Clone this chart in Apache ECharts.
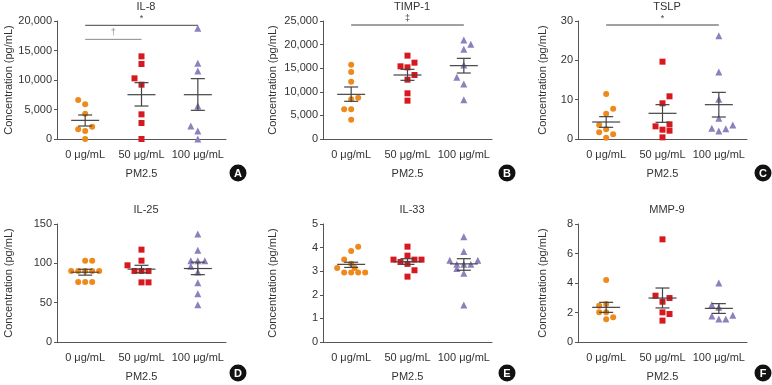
<!DOCTYPE html>
<html>
<head>
<meta charset="utf-8">
<style>
    html,body { margin:0; padding:0; background:#fff; }
    #main { width:772px; height:385px; }
</style>
<script src="https://cdn.jsdelivr.net/npm/echarts@6/dist/echarts.min.js"></script>
</head>
<body>
<div id="main"></div>
<script>
// groups on the x axis
var groups = ['0 μg/mL', '50 μg/mL', '100 μg/mL'];

// IL-8
var il8Vals  = [[6610, 5880, 4290, 2090, 1640, 1360, 0],
                [14010, 12710, 10280, 9210, 4180, 2710, 0],
                [18760, 12820, 11530, 5590, 2200, 1360, 0]];
var il8Slots = [[-1, 0, 0, 1, -1, 0, 0], [0, 0, -1, 0, 0, 0, 0], [0, 0, 0, 0, -1, 0, 0]];
var il8Mean = [3160, 7510, 7510];
var il8Lo   = [2200, 5590, 4860];
var il8Hi   = [4070, 9550, 10230];
var il8Sig  = [[0, 2, 19270, '*', 0], [0, 1, 16890, '†', 1]];

// TIMP-1
var timpVals  = [[15750, 14190, 12150, 8760, 8400, 6290, 6290, 4100],
                 [17660, 16170, 15400, 15180, 13560, 12570, 9680, 8120],
                 [20970, 20060, 19000, 15680, 13070, 11650, 8330]];
var timpSlots = [[0, 0, 0, 1, 0, -1, 0, 0], [0, 1, -1, 0, 1, 0, 0, 0], [0, 1, 0, 0, -1, 0, 0]];
var timpMean = [9460, 13560, 15540];
var timpLo   = [7980, 12430, 13980];
var timpHi   = [11020, 14760, 17090];
var timpSig  = [[0, 2, 24150, '‡', 0]];

// TSLP
var tslpVals  = [[11.44, 7.71, 6.44, 3.56, 2.46, 1.69, 1.19, 0.34],
                 [19.66, 10.85, 9.07, 3.22, 3.73, 2.37, 2.12, 0.42],
                 [26.27, 17.03, 10.08, 5.25, 2.71, 2.03, 2.63, 3.56]];
var tslpSlots = [[0, 1, 0, -1, 0, -1, 1, 0], [0, 1, 0, -1, 1, 0, 1, 0], [0, 0, 0, 0, -1, 0, 1, 2]];
var tslpMean = [4.32, 6.53, 8.73];
var tslpLo   = [2.97, 4.24, 5.59];
var tslpHi   = [5.68, 8.73, 11.86];
var tslpSig  = [[0, 2, 28.98, '*', 0]];

// IL-25
var il25Vals  = [[103.4, 103.4, 90.3, 90.3, 90.3, 90.3, 90.3, 76.3, 76.3, 76.3],
                 [117.4, 103.4, 97.5, 90.3, 90.3, 90.3, 75.8, 75.8],
                 [137.3, 116.5, 103.4, 103.4, 103.4, 96.2, 89, 75.4, 61.4, 47.5]];
var il25Slots = [[0, 1, -2, -1, 0, 1, 2, -1, 0, 1], [0, 0, -2, -1, 0, 1, 0, 1], [0, 0, -1, 0, 1, -1, 0, 0, 0, 0]];
var il25Mean = [88.7, 92.6, 93.4];
var il25Lo   = [85, 88.1, 85.6];
var il25Hi   = [92.5, 97.5, 101.5];

// IL-33
var il33Vals  = [[4.04, 3.86, 3.50, 3.32, 3.14, 3.14, 2.95, 2.95, 2.95, 2.95],
                 [4.04, 3.66, 3.49, 3.49, 3.49, 3.39, 3.31, 3.04, 2.77],
                 [4.46, 3.83, 3.46, 3.46, 3.29, 3.29, 3.29, 3.11, 2.91, 1.57]];
var il33Slots = [[1, 0, -1, 0, -2, 0.5, -1, 0, 1, 2], [0, 0, -2, 1, 2, -1, 0, 1, 0], [0, 0, -2, 2, -1, 1, 0, -1, 0, 0]];
var il33Mean = [3.29, 3.40, 3.31];
var il33Lo   = [3.16, 3.29, 3.04];
var il33Hi   = [3.38, 3.53, 3.53];

// MMP-9
var mmpVals  = [[4.20, 2.58, 2.46, 2.02, 2.02, 1.67, 1.54],
                [6.96, 3.14, 2.98, 2.73, 2.01, 1.90, 1.45],
                [4.0, 2.53, 2.35, 1.76, 1.56, 1.56, 1.81]];
var mmpSlots = [[0, 0, -1, -1, 0, 1, 0], [0, -1, 1, 0, 0, 1, 0], [0, -1, 0, -1, 0, 1, 2]];
var mmpMean = [2.35, 2.98, 2.28];
var mmpLo   = [2.01, 2.31, 1.94];
var mmpHi   = [2.69, 3.66, 2.60];

var panels = [
    {title: 'IL-8',   max: 20000, step: 5000, vals: il8Vals,  slots: il8Slots,  mean: il8Mean,  lo: il8Lo,  hi: il8Hi,  sig: il8Sig,  badge: 'A'},
    {title: 'TIMP-1', max: 25000, step: 5000, vals: timpVals, slots: timpSlots, mean: timpMean, lo: timpLo, hi: timpHi, sig: timpSig, badge: 'B'},
    {title: 'TSLP',   max: 30,    step: 10,   vals: tslpVals, slots: tslpSlots, mean: tslpMean, lo: tslpLo, hi: tslpHi, sig: tslpSig, badge: 'C'},
    {title: 'IL-25',  max: 150,   step: 50,   vals: il25Vals, slots: il25Slots, mean: il25Mean, lo: il25Lo, hi: il25Hi, sig: [],      badge: 'D'},
    {title: 'IL-33',  max: 5,     step: 1,    vals: il33Vals, slots: il33Slots, mean: il33Mean, lo: il33Lo, hi: il33Hi, sig: [],      badge: 'E'},
    {title: 'MMP-9',  max: 8,     step: 2,    vals: mmpVals,  slots: mmpSlots,  mean: mmpMean,  lo: mmpLo,  hi: mmpHi,  sig: [],      badge: 'F'}
];

var colors  = ['#ee8a1c', '#d7181f', '#8e7fbd'];
var symbols = ['circle', 'rect', 'triangle'];
var sizes   = [6, 6, 7];
var FONT = 'Liberation Sans';

var colLeft = [57, 323, 578], rowTop = [21, 224];
var nameGaps = [43, 45, 30];
var badgeX = [238, 507, 763], badgeY = [173, 373];

var option = {
    animation: false,
    textStyle: {fontFamily: FONT},
    title: [], grid: [], xAxis: [], yAxis: [], series: [], graphic: []
};

panels.forEach(function (p, i) {
    var col = i % 3, row = Math.floor(i / 3);
    var left = colLeft[col], top = rowTop[row];

    option.grid.push({left: left, top: top, width: 169, height: 118});
    option.title.push({
        text: p.title, left: left + 84, top: top - 25, textAlign: 'center',
        textStyle: {fontSize: 11, fontWeight: 'normal', color: '#333', fontFamily: FONT}
    });
    option.xAxis.push({
        type: 'category', gridIndex: i, data: groups,
        axisLine: {lineStyle: {color: '#555'}},
        axisTick: {alignWithLabel: true, length: 4, lineStyle: {color: '#555'}},
        axisLabel: {fontSize: 11, color: '#333', margin: 10, fontFamily: FONT, interval: 0, hideOverlap: false},
        name: 'PM2.5', nameLocation: 'middle', nameGap: 29,
        nameTextStyle: {fontSize: 11, color: '#333', fontFamily: FONT}
    });
    option.yAxis.push({
        type: 'value', gridIndex: i, min: 0, max: p.max, interval: p.step,
        axisLine: {show: true, lineStyle: {color: '#555'}},
        axisTick: {show: true, length: 3, lineStyle: {color: '#555'}},
        splitLine: {show: false},
        axisLabel: {fontSize: 11, color: '#333', margin: 5, fontFamily: FONT,
            formatter: function (v) { return v.toLocaleString('en-US'); }},
        name: 'Concentration (pg/mL)', nameLocation: 'middle', nameRotate: 90, nameGap: nameGaps[col],
        nameTextStyle: {fontSize: 11, color: '#333', fontFamily: FONT}
    });

    // points
    p.vals.forEach(function (arr, g) {
        option.series.push({
            type: 'scatter', xAxisIndex: i, yAxisIndex: i,
            symbol: symbols[g], symbolSize: sizes[g],
            itemStyle: {color: colors[g], opacity: 1},
            z: 2,
            data: arr.map(function (v, j) {
                return {value: [g, v], symbolOffset: [p.slots[g][j] * 7, 0]};
            })
        });
    });

    // mean ± SEM
    option.series.push({
        type: 'custom', xAxisIndex: i, yAxisIndex: i, z: 3,
        data: p.mean.map(function (m, g) { return [g, m, p.lo[g], p.hi[g]]; }),
        renderItem: function (params, api) {
            var c = api.coord([api.value(0), api.value(1)]);
            var l = api.coord([api.value(0), api.value(2)]);
            var h = api.coord([api.value(0), api.value(3)]);
            var st = {stroke: '#444', lineWidth: 1.2};
            return {type: 'group', children: [
                {type: 'line', shape: {x1: c[0] - 14, y1: c[1], x2: c[0] + 14, y2: c[1]}, style: st},
                {type: 'line', shape: {x1: c[0], y1: l[1], x2: c[0], y2: h[1]}, style: st},
                {type: 'line', shape: {x1: c[0] - 7, y1: l[1], x2: c[0] + 7, y2: l[1]}, style: st},
                {type: 'line', shape: {x1: c[0] - 7, y1: h[1], x2: c[0] + 7, y2: h[1]}, style: st}
            ]};
        }
    });

    // significance bars
    if (p.sig.length) {
        option.series.push({
            type: 'custom', xAxisIndex: i, yAxisIndex: i, z: 3,
            data: p.sig.map(function (s) { return [s[0], s[2], s[1]]; }),
            renderItem: function (params, api) {
                var s = p.sig[params.dataIndex];
                var a = api.coord([s[0], s[2]]);
                var b = api.coord([s[1], s[2]]);
                var col = s[4] ? '#8a8a8a' : '#444';
                return {type: 'group', children: [
                    {type: 'line', shape: {x1: a[0], y1: a[1], x2: b[0], y2: b[1]}, style: {stroke: col, lineWidth: 1}},
                    {type: 'text', style: {text: s[3], x: (a[0] + b[0]) / 2, y: a[1] - 2,
                        align: 'center', verticalAlign: 'bottom', fill: col, fontSize: 9, fontFamily: FONT}}
                ]};
            }
        });
    }

    // panel letter
    option.graphic.push({
        type: 'group', left: badgeX[col] - 8.5, top: badgeY[row] - 8.5,
        children: [
            {type: 'circle', shape: {cx: 8.5, cy: 8.5, r: 8.5}, style: {fill: '#111'}},
            {type: 'text', style: {text: p.badge, x: 8.5, y: 9, align: 'center', verticalAlign: 'middle',
                fill: '#fff', fontSize: 11, fontWeight: 'bold', fontFamily: FONT}}
        ]
    });
});

var chart = echarts.init(document.getElementById('main'));
chart.setOption(option);
</script>
</body>
</html>
